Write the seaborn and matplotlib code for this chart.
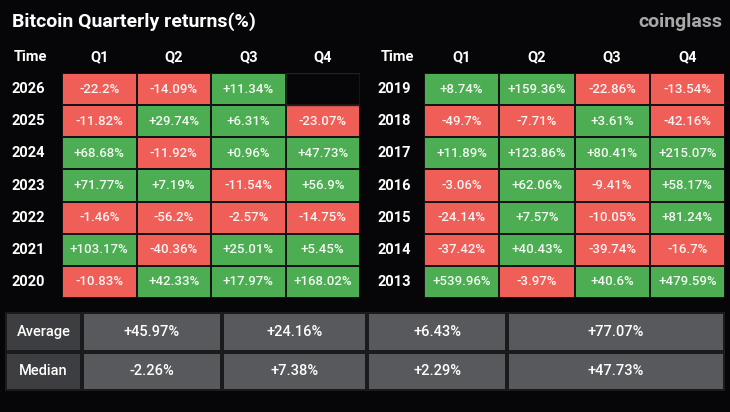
import numpy as np
import pandas as pd
import matplotlib
matplotlib.use('Agg')
import matplotlib.pyplot as plt
from matplotlib.colors import ListedColormap
import seaborn as sns

# quarterly returns (%)
quarters = ["Q1", "Q2", "Q3", "Q4"]
years_left = ["2026", "2025", "2024", "2023", "2022", "2021", "2020"]
returns_left = [
    [-22.2, -14.09, 11.34, np.nan],
    [-11.82, 29.74, 6.31, -23.07],
    [68.68, -11.92, 0.96, 47.73],
    [71.77, 7.19, -11.54, 56.9],
    [-1.46, -56.2, -2.57, -14.75],
    [103.17, -40.36, 25.01, 5.45],
    [-10.83, 42.33, 17.97, 168.02],
]
years_right = ["2019", "2018", "2017", "2016", "2015", "2014", "2013"]
returns_right = [
    [8.74, 159.36, -22.86, -13.54],
    [-49.7, -7.71, 3.61, -42.16],
    [11.89, 123.86, 80.41, 215.07],
    [-3.06, 62.06, -9.41, 58.17],
    [-24.14, 7.57, -10.05, 81.24],
    [-37.42, 40.43, -39.74, -16.7],
    [539.96, -3.97, 40.6, 479.59],
]
stat_names = ["Average", "Median"]
average = [45.97, 24.16, 6.43, 77.07]
median = [-2.26, 7.38, 2.29, 47.73]

BG = "#060608"
RED = "#ef5f58"
GREEN = "#4dad52"
FONT = "Roboto"

W, H = 730, 412


def box(x0, y0, x1, y1):
    return [x0 / W, 1 - y1 / H, (x1 - x0) / W, (y1 - y0) / H]


def fmt(v):
    return "" if np.isnan(v) else f"{v:+g}%"


sns.set_theme(style="white")
plt.rcParams["font.family"] = [FONT, "DejaVu Sans"]

fig = plt.figure(figsize=(7.3, 4.12), dpi=100, facecolor=BG)


def draw_table(rect, years, rows, time_x, ypad):
    df = pd.DataFrame(rows, index=years, columns=quarters)
    labels = df.map(fmt).values
    ax = fig.add_axes(box(*rect))
    ax.set_facecolor(BG)
    sns.heatmap(np.sign(df), ax=ax, cmap=ListedColormap([RED, GREEN]),
                vmin=-1, vmax=1, cbar=False, annot=labels, fmt="",
                linewidths=1.2, linecolor="#161314",
                annot_kws=dict(fontsize=9.5, color="white", alpha=0.93,
                               fontweight="medium"),
                xticklabels=quarters, yticklabels=years)
    ax.xaxis.tick_top()
    ax.tick_params(axis="x", length=0, pad=6, labelsize=10.5, colors="white")
    ax.tick_params(axis="y", length=0, pad=ypad, labelsize=10.5, colors="white",
                   rotation=0)
    for t in ax.get_xticklabels() + ax.get_yticklabels():
        t.set_fontweight("bold")
    fig.text(time_x / W, 1 - 57 / H, "Time", color="white", fontsize=10.5,
             fontweight="bold", ha="center", va="center")
    # empty cell outline
    for i, row in enumerate(rows):
        for j, v in enumerate(row):
            if np.isnan(v):
                ax.add_patch(plt.Rectangle((j, i), 1, 1, fill=False,
                                           ec="#222224", lw=1))
    return ax


draw_table((62, 73, 360, 298), years_left, returns_left, 30, 12)
draw_table((424, 73, 725, 298), years_right, returns_right, 397, 9)

# summary table
axb = fig.add_axes(box(5, 312, 725, 391))
xedges = np.array([5, 82, 222, 367, 507, 725])
yedges = np.array([0, 1, 2])
shade = np.array([[0, 1, 1, 1, 1], [0, 1, 1, 1, 1]])
axb.pcolormesh(xedges, yedges, shade, cmap=ListedColormap(["#3d3e41", "#58595c"]),
               edgecolors="#1b1b1e", linewidth=1.6)
axb.set_xlim(5, 725)
axb.set_ylim(2, 0)
axb.axis("off")
centers = (xedges[:-1] + xedges[1:]) / 2
for r, (name, vals) in enumerate(zip(stat_names, [average, median])):
    axb.text(centers[0], r + 0.5, name, color="white", fontsize=10.5,
             ha="center", va="center", fontweight="medium")
    for c, v in enumerate(vals):
        axb.text(centers[c + 1], r + 0.5, fmt(v), color="white", fontsize=10.5,
                 ha="center", va="center", fontweight="medium")

fig.text(12 / W, 1 - 22 / H, "Bitcoin Quarterly returns(%)", color="white",
         fontsize=14, fontweight="bold", ha="left", va="center")
fig.text(722 / W, 1 - 22 / H, "coinglass", color="#a8a8a8",
         fontsize=14, fontweight="bold", ha="right", va="center")

fig.savefig("out.png", dpi=100, facecolor=BG)
